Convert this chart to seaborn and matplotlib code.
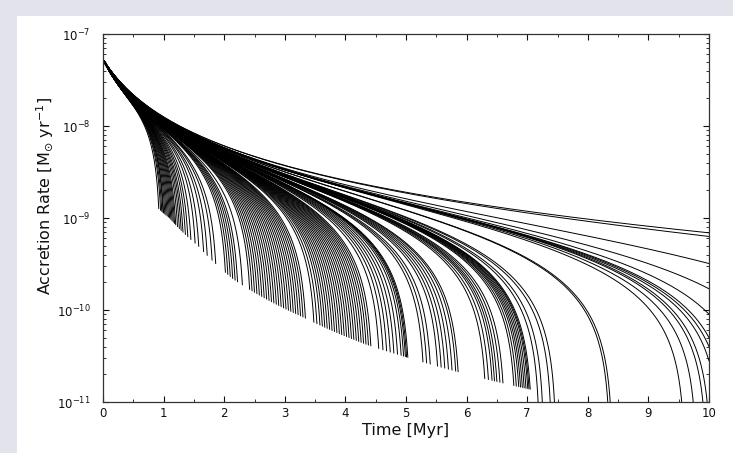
import numpy as np
import pandas as pd
import matplotlib
matplotlib.use("Agg")
import matplotlib.pyplot as plt
from matplotlib.patches import Rectangle
from matplotlib.ticker import MultipleLocator, FixedLocator, NullFormatter
import seaborn as sns

# ---------------- data ----------------
start_rate = 5.3e-8            # common accretion rate at t = 0 [Msun/yr]
# lower envelope where the tracks terminate (time [Myr], rate)
env_time = [0.9, 1.1, 1.57, 2.14, 3.3, 4.36, 5.0, 7.0, 10.0]
env_rate = [1.3e-9, 1.0e-9, 5.0e-10, 2.2e-10, 8.4e-11, 4.2e-11, 3.1e-11, 1.4e-11, 6.5e-12]
# viscous-time anchors (Myr) vs end time, read from the fan of tracks
visc_anchor_t = [0.9, 2.0, 3.0, 4.4, 5.0, 7.0, 10.0]
visc_anchor_ts = [0.47, 0.51, 0.535, 0.56, 0.572, 0.595, 0.615]
# sharpness of the final drop vs end time (read from track curvature)
cut_anchor_t = [0.9, 2.0, 4.0, 7.0, 10.0]
cut_anchor_n = [4.0, 3.0, 2.4, 2.0, 2.0]

# end times of tracks that stop above the lower axis
end_times = [
    0.92, 0.95, 0.97, 0.99, 1.00, 1.02, 1.04, 1.06, 1.08, 1.10, 1.12, 1.14,
    1.16, 1.18, 1.20, 1.23, 1.26, 1.29, 1.32, 1.36, 1.40, 1.45, 1.52, 1.58,
    1.66, 1.72, 1.80, 1.86, 2.02, 2.06, 2.10, 2.14, 2.18, 2.22, 2.30,
    2.42, 2.46, 2.50, 2.54, 2.58, 2.62, 2.66, 2.70, 2.74, 2.78, 2.82, 2.86,
    2.90, 2.94, 2.98, 3.02, 3.06, 3.10, 3.14, 3.18, 3.22, 3.26, 3.30, 3.34,
    3.48, 3.53, 3.58, 3.62, 3.66, 3.70, 3.74, 3.78, 3.82, 3.86, 3.90, 3.94,
    3.98, 4.02, 4.06, 4.10, 4.14, 4.18, 4.22, 4.26, 4.30, 4.34, 4.38, 4.42,
    4.55, 4.62, 4.68, 4.74, 4.80, 4.86, 4.92, 4.96, 4.99, 5.01, 5.03,
    5.28, 5.34, 5.40, 5.52, 5.58, 5.64, 5.70, 5.76, 5.82, 5.86,
    6.30, 6.36, 6.42, 6.46, 6.50, 6.55, 6.60,
    6.78, 6.82, 6.86, 6.89, 6.92, 6.95, 6.98, 7.01, 7.03, 7.05,
]
# times where tracks cross the bottom axis (1e-11)
bottom_cross_times = [7.18, 7.25, 7.38, 7.45, 8.33, 8.37, 9.55, 9.74, 9.90, 9.97]
# rates of tracks that leave through the right edge (t = 10 Myr)
right_edge_rates = [6.9e-10, 6.3e-10, 3.2e-10, 1.7e-10, 9.0e-11, 5.0e-11, 4.0e-11, 2.8e-11]

x_ticks = [0, 1, 2, 3, 4, 5, 6, 7, 8, 9, 10]
y_ticks = [1e-11, 1e-10, 1e-9, 1e-8, 1e-7]

# ---------------- build the tracks ----------------
def visc(t, ts):
    return start_rate * (1.0 + t / ts) ** -1.5

def ts_for(t):
    return np.interp(t, visc_anchor_t, visc_anchor_ts)

def n_for(t):
    return np.interp(t, cut_anchor_t, cut_anchor_n)

def envelope(t):
    return 10 ** np.interp(np.log10(t), np.log10(env_time), np.log10(env_rate))

rows = []
cid = 0
def add_track(t_stop, tc, ts, n):
    global cid
    t = np.linspace(0.0, t_stop, 500)
    r = visc(t, ts) * (1.0 - (t / tc) ** n)
    rows.append(pd.DataFrame({"time": t, "rate": r, "track": cid}))
    cid += 1

for te in end_times:
    ts, n = ts_for(te), n_for(te)
    lev = envelope(te)
    tc = te / (1.0 - lev / visc(te, ts)) ** (1.0 / n)
    add_track(te, tc, ts, n)

for te in bottom_cross_times:
    ts, n = ts_for(te), n_for(te)
    tc = te / (1.0 - 1e-11 / visc(te, ts)) ** (1.0 / n)
    t_stop = min(tc * (1.0 - 0.5e-11 / visc(te, ts)) ** (1.0 / n), 10.0)
    add_track(t_stop, tc, ts, n)

for rr in right_edge_rates:
    ts = 0.62 if rr > 5e-10 else 0.605
    n = 2.0
    tc = 10.0 / (1.0 - rr / visc(10.0, ts)) ** (1.0 / n)
    add_track(10.0, tc, ts, n)

df = pd.concat(rows, ignore_index=True)
df = df[df["rate"] > 0]

# ---------------- figure ----------------
sns.set_theme(style="ticks")
plt.rcParams["font.family"] = ["DejaVu Sans"]
plt.rcParams["mathtext.fontset"] = "dejavusans"

W, H = 733, 453
fig = plt.figure(figsize=(W / 100, H / 100), dpi=100, facecolor="#e3e4eb")
fig.patches.append(Rectangle((17 / W, 0), 1 - 17 / W, (H - 16) / H,
                             transform=fig.transFigure, facecolor="white",
                             edgecolor="none", zorder=-10))
ax = fig.add_axes([103 / W, 1 - 402 / H, 606 / W, 368 / H])
ax.set_zorder(1)
ax.set_facecolor("white")

sns.lineplot(data=df, x="time", y="rate", units="track", estimator=None,
             color="black", lw=0.7, ax=ax, legend=False)

ax.set_yscale("log")
ax.set_xlim(0, 10)
ax.set_ylim(1e-11, 1e-7)
ax.xaxis.set_major_locator(FixedLocator(x_ticks))
ax.xaxis.set_minor_locator(MultipleLocator(0.5))
ax.yaxis.set_major_locator(FixedLocator(y_ticks))
minor_y = [m * 10.0 ** e for e in range(-11, -7) for m in range(2, 10)]
ax.yaxis.set_minor_locator(FixedLocator(minor_y))
ax.yaxis.set_minor_formatter(NullFormatter())

ax.tick_params(which="both", direction="in", top=True, right=True, colors="#111111")
ax.tick_params(which="major", length=4.5, width=0.8, labelsize=8.5)
ax.tick_params(which="minor", length=2.5, width=0.6)
ax.tick_params(axis="y", which="major", pad=9)
ax.tick_params(axis="x", which="major", pad=3.5)
for s in ax.spines.values():
    s.set_color("#333333")
    s.set_linewidth(0.9)

ax.set_xlabel("Time [Myr]", fontsize=11.5, color="#111111")
ax.set_ylabel(r"Accretion Rate [M$_{\odot}$ yr$^{-1}$]", fontsize=11.5, color="#111111")
ax.xaxis.set_label_coords(0.5, -0.058)
ax.yaxis.set_label_coords(-0.078, 0.56)

fig.savefig("out.png", dpi=100, facecolor=fig.get_facecolor())
